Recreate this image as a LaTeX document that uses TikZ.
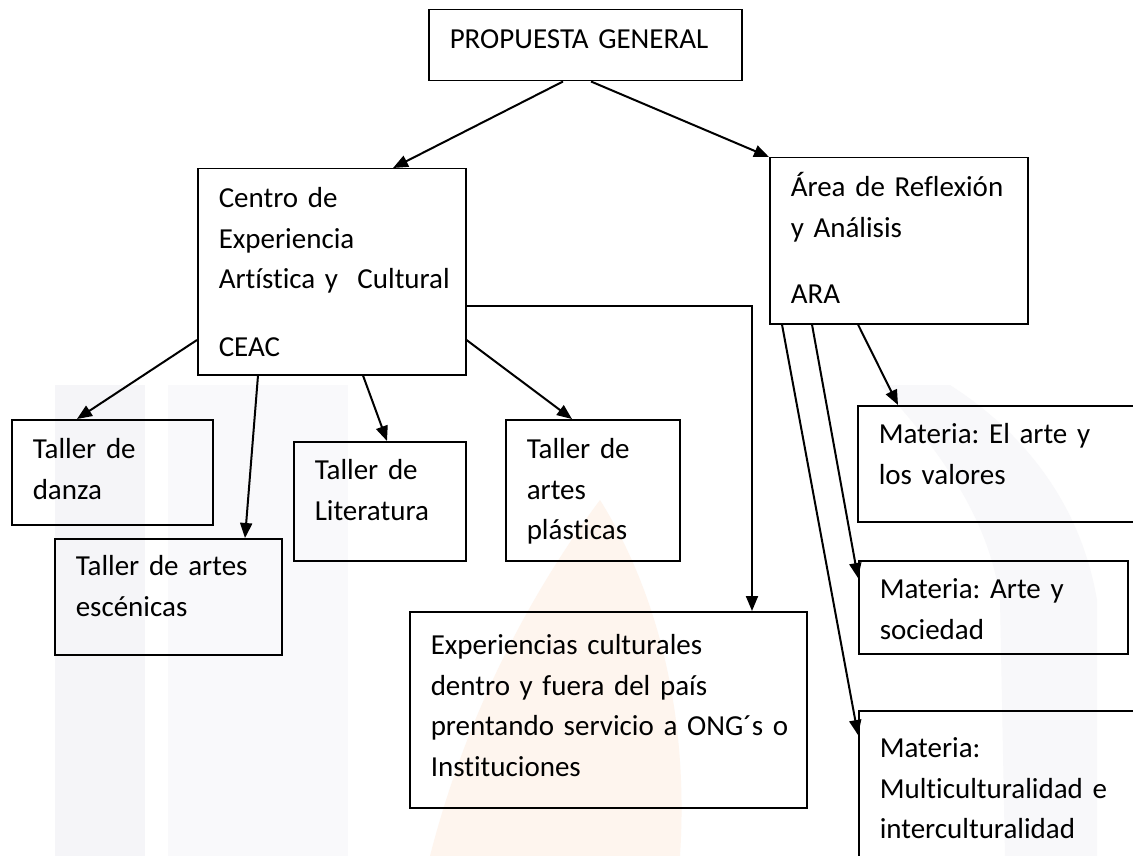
\documentclass[tikz,border=0pt]{standalone}
\usepackage{fontspec}
\setmainfont{Carlito}[Ligatures=NoCommon]
\frenchspacing
\usetikzlibrary{arrows.meta,calc}
\definecolor{marcagris}{RGB}{245,245,248}
\definecolor{marcanaranja}{RGB}{254,245,238}
\tikzset{caja/.style n args={3}{draw,line width=1.5pt,anchor=north west,inner sep=0pt,
    text width=#1pt,text height=#2pt,text depth=#3pt,align=left,
    font=\fontsize{29}{40.5}\selectfont,
    execute at begin node={\leftskip=21pt\relax}}}
\tikzset{flecha/.style={line width=2pt,-{Triangle[length=15pt,width=12pt]}}}
\tikzset{marca/.style={draw=none}}

\begin{document}
\begin{tikzpicture}[x=1pt,y=-1pt]
    \fill[white] (0,0) rectangle (1133,856);
    \useasboundingbox (0,0) rectangle (1133,856);
    % marca de agua
    \fill[marca,marcagris] (55,385) rectangle (145,856);
    \fill[marca,marcagris!60] (168,385) rectangle (348,856);
    \fill[marca,marcanaranja] (430,856) .. controls (470,700) and (540,580) .. (600,500)
        .. controls (650,580) and (690,700) .. (680,856) -- cycle;
    \fill[marca,marcagris] (1005,600) rectangle (1097,856);
    \fill[marca,marcagris!70] (880,385) .. controls (940,450) and (990,520) .. (1000,600)
        -- (1005,856) -- (1097,856) -- (1097,600) .. controls (1080,500) and (1020,430) .. (950,385) -- cycle;

    % cajas
    \node[caja={313}{39}{32}] (pg) at (428,9) {PROPUESTA GENERAL};
    \node[caja={268}{39}{167}] (ceac) at (197,168)
        {Centro de\\ Experiencia\\ Artística y\ \ Cultural\\[27.5pt] CEAC};
    \node[caja={258}{39}{127}] (ara) at (769,157)
        {Área de Reflexión\\ y Análisis\\[25.5pt] ARA};
    \node[caja={201}{39}{66}] (danza) at (11,419) {Taller de\\ danza};
    \node[caja={227}{37}{79}] (esc) at (54,538) {Taller de artes\\ escénicas};
    \node[caja={172}{38}{81}] (lit) at (293,441) {Taller de\\ Literatura};
    \node[caja={174}{39}{102}] (plas) at (505,419) {Taller de\\ artes\\ plásticas};
    \node[caja={397}{43}{153}] (exp) at (409,611)
        {Experiencias culturales\\ dentro y fuera del país\\ prentando servicio a ONG´s o\\ Instituciones};
    \node[caja={283}{38}{78}] (m1) at (857,405) {Materia: El arte y\\ los valores};
    \node[caja={269}{38}{55}] (m2) at (858,560) {Materia: Arte y\\ sociedad};
    \node[caja={282}{47}{113}] (m3) at (858,710)
        {Materia:\\ Multiculturalidad e\\ interculturalidad};

    % flechas
    \draw[flecha] ([xshift=135pt]pg.south west) -- ([xshift=196pt]ceac.north west);
    \draw[flecha] ([xshift=163pt]pg.south west) -- (ara.north west);
    \draw[flecha] ([yshift=-172pt]ceac.north west) -- ([xshift=66pt]danza.north west);
    \draw[flecha] ([xshift=61pt]ceac.south west) -- ([xshift=191pt]esc.north west);
    \draw[flecha] ([xshift=166pt]ceac.south west) -- ([xshift=94pt]lit.north west);
    \draw[flecha] ([yshift=-172pt]ceac.north east) -- ([xshift=67pt]plas.north west);
    \draw[flecha] ([yshift=-138pt]ceac.north east) -| ([xshift=343pt]exp.north west);
    \draw[flecha] ([xshift=89pt]ara.south west) -- ([xshift=41pt]m1.north west);
    \draw[flecha] ([xshift=43pt]ara.south west) -- ([yshift=-18pt]m2.north west);
    \draw[flecha] ([xshift=13pt]ara.south west) -- ([yshift=-25pt]m3.north west);
\end{tikzpicture}
\end{document}
